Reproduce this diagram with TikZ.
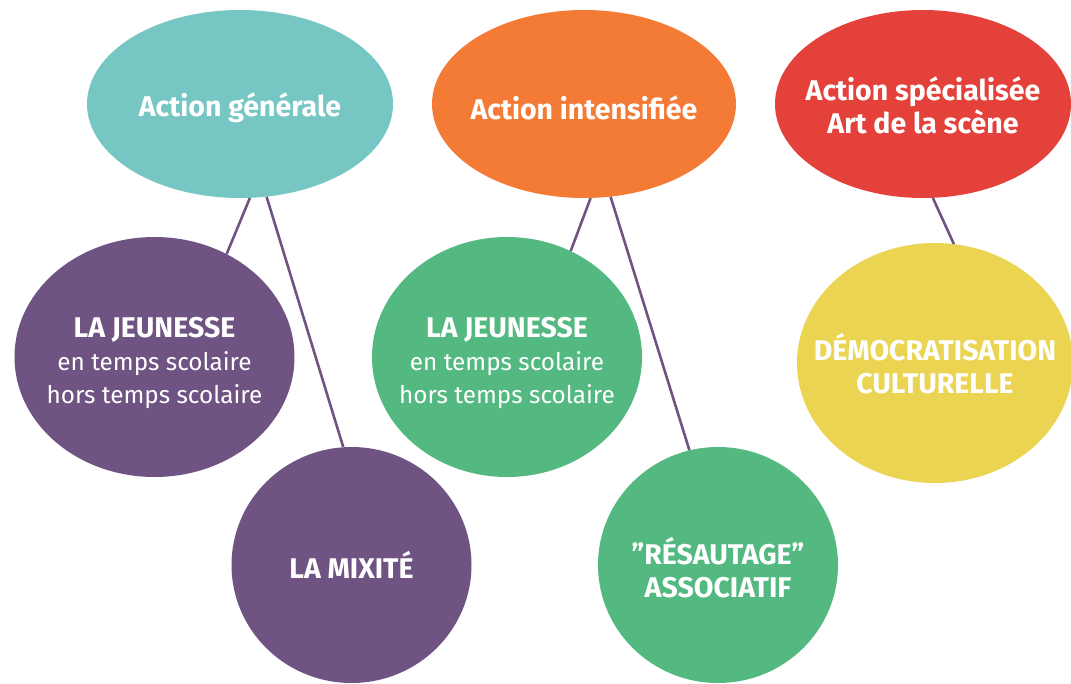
\documentclass[tikz,border=0pt]{standalone}
\usepackage{fontspec}
\setmainfont{Fira Sans}
\usetikzlibrary{shapes.geometric}
\definecolor{cteal}{HTML}{76C6C4}
\definecolor{corange}{HTML}{F47B35}
\definecolor{cred}{HTML}{E5413B}
\definecolor{cpurple}{HTML}{6F5483}
\definecolor{cgreen}{HTML}{53B981}
\definecolor{cyellow}{HTML}{EAD452}
\newcommand{\bigtxt}{\fontsize{28.5}{33}\selectfont\bfseries}
\newcommand{\smalltxt}{\fontsize{24.3}{31}\selectfont\mdseries}
\begin{document}
\begin{tikzpicture}[x=1pt, y=-1pt,
    bubble/.style={ellipse, inner sep=0pt},
    txt/.style={text=white, align=center, font=\bigtxt, inner sep=0pt},
    link/.style={cpurple, line width=2.6pt}]
            \clip (0,0) rectangle (1071,683);

            \node[bubble, fill=cteal, minimum width=306, minimum height=188] (gen) at (240,104) {};
            \node[bubble, fill=corange, minimum width=304, minimum height=188] (int) at (584,104) {};
            \node[bubble, fill=cred, minimum width=296, minimum height=188] (spe) at (923,104) {};
            \node[bubble, fill=cpurple, minimum width=280, minimum height=240] (jeu1) at (154.5,357) {};
            \node[bubble, fill=cpurple, minimum width=240, minimum height=236] (mix) at (351.5,565) {};
            \node[bubble, fill=cgreen, minimum width=270, minimum height=240] (jeu2) at (507,357) {};
            \node[bubble, fill=cgreen, minimum width=240, minimum height=236] (res) at (718,565) {};
            \node[bubble, fill=cyellow, minimum width=276, minimum height=240] (dem) at (935,363) {};

            \node[txt, yshift=-4pt] (gen-t) at (gen) {Action générale};
            \node[txt, yshift=-4pt] (int-t) at (int) {Action intensifiée};
            \node[txt, yshift=-1pt] (spe-t) at (spe) {Action spécialisée\\Art de la scène};
            \node[txt, yshift=-6pt] (jeu1-t) at (jeu1) {LA JEUNESSE\\{\smalltxt en temps scolaire}\\{\smalltxt hors temps scolaire}};
            \node[txt] (mix-t) at (mix) {LA MIXITÉ};
            \node[txt, yshift=-6pt] (jeu2-t) at (jeu2) {LA JEUNESSE\\{\smalltxt en temps scolaire}\\{\smalltxt hors temps scolaire}};
            \node[txt, yshift=-3pt] (res-t) at (res) {”RÉSAUTAGE”\\ASSOCIATIF};
            \node[txt, yshift=-1pt] (dem-t) at (dem) {DÉMOCRATISATION\\CULTURELLE};

            \draw[link] (gen.-84.5) -- (jeu1.55.4);
            \draw[link] (gen.-74.5) -- (mix.94.2);
            \draw[link] (int.-86.3) -- (jeu2.59.5);
            \draw[link] (int.-74.5) -- (res.104.9);
            \draw[link] (spe.-84.5) -- (dem.81.3);
        \end{tikzpicture}
\end{document}
